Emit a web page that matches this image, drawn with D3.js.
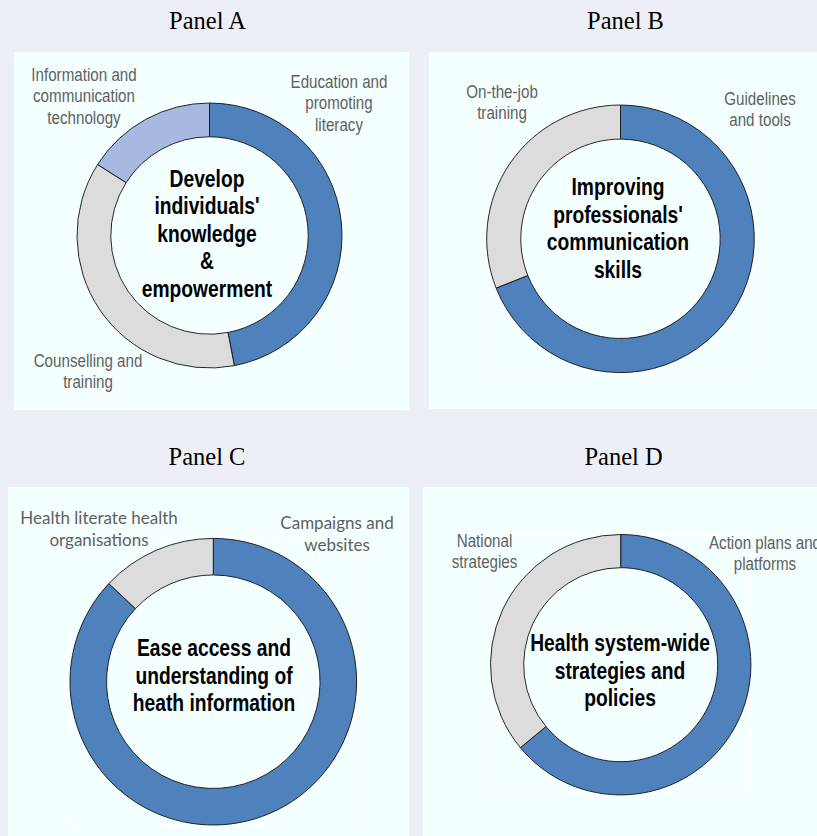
<!DOCTYPE html>
<meta charset="utf-8">
<style type="text/css">
  body { margin: 0; background-color: #edeff7; }
  svg { display: block; }
</style>
<script src="https://cdnjs.cloudflare.com/ajax/libs/d3/7.8.5/d3.min.js"></script>
<div id="chart"></div>
<script>

// chart data, one block per panel
var panelTitles = ["Panel A", "Panel B", "Panel C", "Panel D"];

var centreLabels = [
  ["Develop", "individuals'", "knowledge", "&", "empowerment"],
  ["Improving", "professionals'", "communication", "skills"],
  ["Ease access and", "understanding of", "heath information"],
  ["Health system-wide", "strategies and", "policies"]
];

var panelACategories = ["Education and promoting literacy", "Counselling and training", "Information and communication technology"];
var panelAValues = [47, 37, 16];

var panelBCategories = ["Guidelines and tools", "On-the-job training"];
var panelBValues = [69, 31];

var panelCCategories = ["Campaigns and websites", "Health literate health organisations"];
var panelCValues = [87, 13];

var panelDCategories = ["Action plans and platforms", "National strategies"];
var panelDValues = [64, 36];

// how the segment labels break into lines
var panelALabelLines = [["Education and", "promoting", "literacy"], ["Counselling and", "training"], ["Information and", "communication", "technology"]];
var panelBLabelLines = [["Guidelines", "and tools"], ["On-the-job", "training"]];
var panelCLabelLines = [["Campaigns and", "websites"], ["Health literate health", "organisations"]];
var panelDLabelLines = [["Action plans and", "platforms"], ["National", "strategies"]];

var width = 817, height = 836;
var narrow = 0.82;  // no Arial Narrow here, so squeeze Liberation Sans

var svg = d3.select("#chart").append("svg")
  .attr("width", width)
  .attr("height", height);

// layout of each panel (page positions, not data)
var panels = [
  { box: [14, 52, 395, 358], cx: 209.5, cy: 235.5, R: 132.5, title: [207.5, 29],
    cats: panelACategories, vals: panelAValues, lines: panelALabelLines,
    colors: ["#4f81bd", "#dcdcdc", "#a7b9e1"],
    labelPos: [[339, 88], [88, 367], [84, 81]], squeeze: true,
    labelFont: "'Liberation Sans', Arial, sans-serif", labelSize: 18.5, labelStep: 21.5,
    centreY: 187, centreX: 207 },
  { box: [429, 52, 388, 357], cx: 620.5, cy: 238.8, R: 133.8, title: [625.5, 29],
    cats: panelBCategories, vals: panelBValues, lines: panelBLabelLines,
    colors: ["#4f81bd", "#dcdcdc"],
    labelPos: [[760, 105], [502, 98]], squeeze: true,
    labelFont: "'Liberation Sans', Arial, sans-serif", labelSize: 18.5, labelStep: 21.5,
    centreY: 195.5, centreX: 618 },
  { box: [8, 487, 401, 349], cx: 213.3, cy: 681.7, R: 143.3, title: [207, 465],
    cats: panelCCategories, vals: panelCValues, lines: panelCLabelLines,
    colors: ["#4f81bd", "#dcdcdc"],
    labelPos: [[337, 529], [99, 524]], squeeze: false,
    labelFont: "Lato, 'Open Sans', sans-serif", labelSize: 17, labelStep: 22,
    centreY: 656.5, centreX: 214 },
  { box: [423, 487, 394, 349], cx: 620.7, cy: 664.7, R: 130.2, title: [623.5, 465],
    cats: panelDCategories, vals: panelDValues, lines: panelDLabelLines,
    colors: ["#4f81bd", "#dcdcdc"],
    labelPos: [[765, 549], [484.5, 547]], squeeze: true,
    labelFont: "'Liberation Sans', Arial, sans-serif", labelSize: 18.5, labelStep: 21.5,
    centreY: 651.5, centreX: 620 }
];

var pie = d3.pie().sort(null).value(function(d) { return d; });

// multi-line text block centred on x, optionally squeezed horizontally
function textBlock(parent, x, y, lines, step, sx) {
  var t = parent.append("text")
    .attr("transform", "translate(" + x + ",0) scale(" + sx + ",1)")
    .attr("text-anchor", "middle");
  lines.forEach(function(line, k) {
    t.append("tspan")
      .attr("x", 0)
      .attr("y", y + k * step)
      .text(line);
  });
  return t;
}

panels.forEach(function(p, i) {
  // panel background
  svg.append("rect")
    .attr("x", p.box[0]).attr("y", p.box[1])
    .attr("width", p.box[2]).attr("height", p.box[3])
    .style("fill", "#f4ffff");

  // panel title
  svg.append("text")
    .attr("x", p.title[0]).attr("y", p.title[1])
    .attr("text-anchor", "middle")
    .style("font-family", "'Liberation Serif', 'Times New Roman', serif")
    .style("font-size", "24.5px")
    .style("fill", "#000")
    .text(panelTitles[i]);

  // faint plot-area frame
  svg.append("rect")
    .attr("x", p.cx - p.R).attr("y", p.cy - p.R)
    .attr("width", 2 * p.R).attr("height", 2 * p.R)
    .style("fill", "none")
    .style("stroke", "#ffffff")
    .style("stroke-width", 1);

  var g = svg.append("g")
    .attr("transform", "translate(" + p.cx + "," + p.cy + ")");

  var arc = d3.arc().innerRadius(p.R * 0.745).outerRadius(p.R);

  // inner disc
  g.append("circle")
    .attr("r", p.R * 0.745)
    .style("fill", "#f4ffff");

  g.selectAll("path")
    .data(pie(p.vals))
    .enter()
    .append("path")
      .attr("d", arc)
      .style("fill", function(d, j) { return p.colors[j]; })
      .style("stroke", "#111")
      .style("stroke-width", 0.9);

  // segment labels
  p.lines.forEach(function(lines, j) {
    textBlock(svg, p.labelPos[j][0], p.labelPos[j][1], lines, p.labelStep, p.squeeze ? narrow : 1)
      .style("font-family", p.labelFont)
      .style("font-size", p.labelSize + "px")
      .style("fill", "#5f5f5f");
  });

  // centre text
  textBlock(svg, p.centreX, p.centreY, centreLabels[i], 27.4, narrow)
    .style("font-family", "'Liberation Sans', Arial, sans-serif")
    .style("font-weight", "bold")
    .style("font-size", "23.5px")
    .style("fill", "#000");
});

</script>
